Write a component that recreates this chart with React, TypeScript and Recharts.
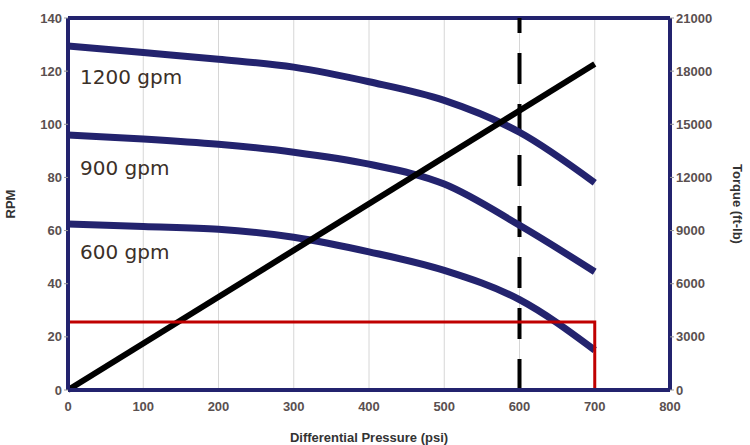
import {
  ComposedChart,
  Line,
  XAxis,
  YAxis,
  CartesianGrid,
  ReferenceLine,
  Label,
} from "recharts";

const pressure = [0, 100, 200, 300, 400, 500, 600, 700];
const rpm1200 = [129.5, 127, 124.5, 121.5, 116, 109, 97, 78];
const rpm900 = [96, 94.5, 92.5, 89.5, 85, 77.5, 62, 44.5];
const rpm600 = [62.5, 61.5, 60.5, 57.5, 52, 45, 34, 15];

const torqueLine = [
  { p: 0, t: 0 },
  { p: 700, t: 18400 },
];
const limitLine = [
  { p: 0, r: 25.6 },
  { p: 700, r: 25.6 },
  { p: 700, r: 0 },
];

const xTicks = [0, 100, 200, 300, 400, 500, 600, 700, 800];
const rpmTicks = [0, 20, 40, 60, 80, 100, 120, 140];
const torqueTicks = [0, 3000, 6000, 9000, 12000, 15000, 18000, 21000];

const data = pressure.map((p, i) => ({
  p,
  a: rpm1200[i],
  b: rpm900[i],
  c: rpm600[i],
}));

const navy = "#23236e";
const tickStyle = { fill: "#5a5050", fontSize: 13, fontFamily: "Liberation Sans, Arial", fontWeight: "bold" as const };
const curveLabel = { fill: "#3b3028", fontSize: 20, fontFamily: "DejaVu Sans" };
const titleStyle = { fill: "#333", fontSize: 13, fontWeight: "bold" as const, fontFamily: "Liberation Sans, Arial" };

export default function App() {
  return (
    <div style={{ position: "absolute", left: 0, top: 0, background: "#fff" }}>
      <ComposedChart
        width={750}
        height={445}
        data={data}
        margin={{ top: 18, right: 0, bottom: 0, left: 0 }}
      >
        <CartesianGrid stroke="#d6d6d6" strokeWidth={1} />
        <XAxis
          dataKey="p"
          type="number"
          domain={[0, 800]}
          ticks={xTicks}
          tick={tickStyle}
          axisLine={{ stroke: navy, strokeWidth: 4 }}
          tickLine={false}
          tickMargin={6}
          height={55}
        >
          <Label value="Differential Pressure (psi)" position="insideBottom" offset={3} style={titleStyle} />
        </XAxis>
        <YAxis
          yAxisId="rpm"
          domain={[0, 140]}
          ticks={rpmTicks}
          tick={tickStyle}
          axisLine={{ stroke: navy, strokeWidth: 4 }}
          tickLine={{ stroke: "#999" }}
          tickSize={4}
          tickMargin={2}
          width={68}
        >
          <Label value="RPM" angle={-90} position="insideLeft" offset={10} style={{ ...titleStyle, textAnchor: "middle" }} />
        </YAxis>
        <YAxis
          yAxisId="torque"
          orientation="right"
          domain={[0, 21000]}
          ticks={torqueTicks}
          tick={tickStyle}
          axisLine={{ stroke: navy, strokeWidth: 4 }}
          tickLine={{ stroke: "#999" }}
          tickSize={4}
          tickMargin={2}
          width={80}
        >
          <Label value="Torque (ft-lb)" angle={90} position="insideRight" offset={12} style={{ ...titleStyle, textAnchor: "middle" }} />
        </YAxis>
        <ReferenceLine yAxisId="rpm" y={140} stroke={navy} strokeWidth={4} />
        <ReferenceLine yAxisId="rpm" x={600} stroke="#000" strokeWidth={4} strokeDasharray="31 20" />
        <Line yAxisId="rpm" dataKey="a" stroke={navy} strokeWidth={7} dot={false} type="monotone" isAnimationActive={false} />
        <Line yAxisId="rpm" dataKey="b" stroke={navy} strokeWidth={7} dot={false} type="monotone" isAnimationActive={false} />
        <Line yAxisId="rpm" dataKey="c" stroke={navy} strokeWidth={7} dot={false} type="monotone" isAnimationActive={false} />
        <Line
          yAxisId="torque"
          data={torqueLine}
          dataKey="t"
          stroke="#000"
          strokeWidth={6}
          dot={false}
          isAnimationActive={false}
        />
        <Line
          yAxisId="rpm"
          data={limitLine}
          dataKey="r"
          stroke="#c00000"
          strokeWidth={3}
          dot={false}
          isAnimationActive={false}
        />
        <ReferenceLine yAxisId="rpm" y={118} stroke="none">
          <Label value="1200 gpm" position="insideLeft" offset={12} style={curveLabel} />
        </ReferenceLine>
        <ReferenceLine yAxisId="rpm" y={83.5} stroke="none">
          <Label value="900 gpm" position="insideLeft" offset={12} style={curveLabel} />
        </ReferenceLine>
        <ReferenceLine yAxisId="rpm" y={52} stroke="none">
          <Label value="600 gpm" position="insideLeft" offset={12} style={curveLabel} />
        </ReferenceLine>
      </ComposedChart>
    </div>
  );
}
